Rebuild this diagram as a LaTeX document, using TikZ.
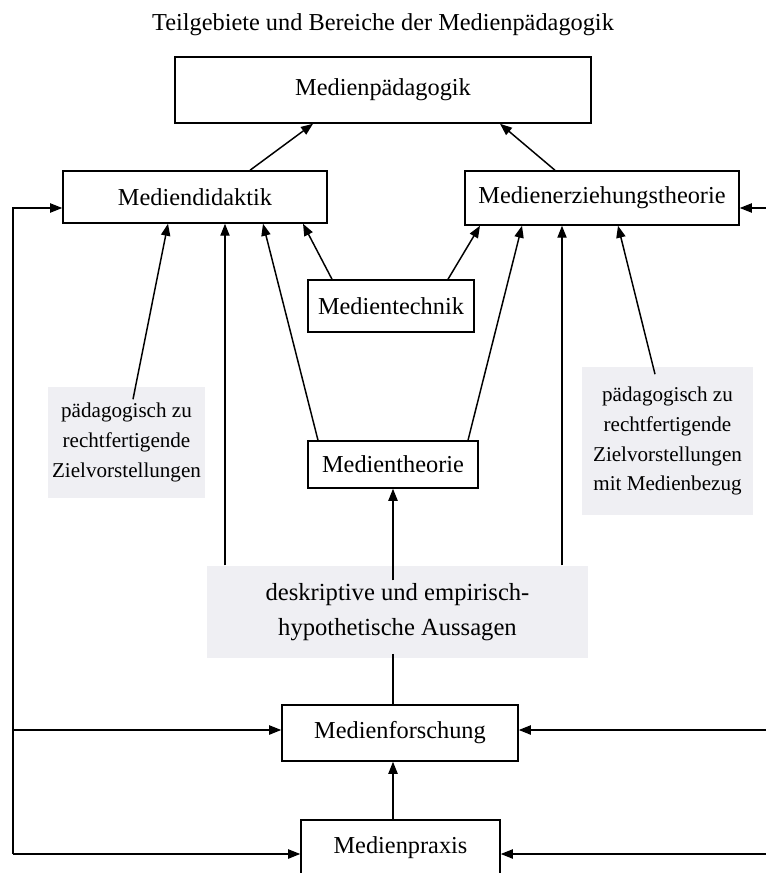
\documentclass[tikz,border=0pt]{standalone}
\usepackage{fontspec}
\setmainfont{Liberation Serif}
\usetikzlibrary{arrows.meta, calc}
\definecolor{shade}{RGB}{239,239,243}

\begin{document}
\begin{tikzpicture}[x=0.025cm, y=-0.025cm, line width=1.05pt,
    every node/.style={font=\fontsize{17.3}{21}\selectfont},
    area/.style={rectangle, draw, inner sep=0pt, minimum height=1.3cm},
    note/.style={rectangle, fill=shade, inner sep=0pt, align=center, font=\fontsize{15}{21.3}\selectfont},
    arr/.style={-{Triangle[length=3mm, width=2.3mm]}}]

    \useasboundingbox (0,0) rectangle (766,873);

    \node (title) at (383,25) {Teilgebiete und Bereiche der Medienpädagogik};
    \node[area, minimum width=10.4cm, minimum height=1.65cm] (paed) at (383,90) {Medienpädagogik};
    \node[area, minimum width=6.6cm] (didak) at (195,197) {Mediendidaktik};
    \node[area, minimum width=6.85cm, minimum height=1.35cm] (erz) at (602,198) {Medienerziehungstheorie};
    \node[area, minimum width=4.15cm] (tech) at (391,306) {Medientechnik};
    \node[area, minimum width=4.25cm, minimum height=1.175cm] (theo) at (393,464.5) {Medientheorie};
    \node[area, minimum width=5.9cm, minimum height=1.4cm] (forsch) at (400,733) {Medienforschung};
    \node[area, minimum width=4.975cm, minimum height=1.4cm] (praxis) at (400.5,848) {Medienpraxis};

    \node[note, minimum width=3.925cm, minimum height=2.775cm] (lziel) at (126.5,442.5) {pädagogisch zu\\ rechtfertigende\\ Zielvorstellungen};
    \node[note, minimum width=4.275cm, minimum height=3.7cm] (rziel) at (667.5,441) {pädagogisch zu\\ rechtfertigende\\ Zielvorstellungen\\ mit Medienbezug};
    \node[note, minimum width=9.525cm, minimum height=2.3cm, font=\fontsize{17.5}{25}\selectfont] (desk) at (397.5,612) {deskriptive und empirisch-\\ hypothetische Aussagen};

    \coordinate (lt) at (13,208);
    \coordinate (lm) at (13,730);
    \coordinate (lb) at (13,854);
    \coordinate (rt) at (770,208);
    \coordinate (rm) at (770,730);
    \coordinate (rb) at (770,854);

    \draw[arr] (didak.north -| 250,0) -- (paed.south -| 313,0);
    \draw[arr] (erz.north -| 555,0) -- (paed.south -| 500,0);
    \draw[arr] (tech.north -| 332,0) -- (didak.south -| 303,0);
    \draw[arr] (tech.north -| 448,0) -- (erz.south -| 480,0);
    \draw[arr] ($(lziel.north -| 133,0)+(0,13)$) -- (didak.south -| 168,0);
    \draw[arr] (desk.north -| 225,0) -- (didak.south -| 225,0);
    \draw[arr] (theo.north -| 318,0) -- (didak.south -| 263,0);
    \draw[arr] (theo.north -| 468,0) -- (erz.south -| 522,0);
    \draw[arr] (desk.north -| 562,0) -- (erz.south -| 562,0);
    \draw[arr] ($(rziel.north -| 655,0)+(0,8)$) -- (erz.south -| 618,0);
    \draw[arr] ($(desk.north -| 393,0)+(0,15)$) -- (theo.south -| 393,0);
    \draw ($(desk.south -| 393,0)+(0,-5)$) -- (forsch.north -| 393,0);
    \draw[arr] (praxis.north -| 393,0) -- (forsch.south -| 393,0);

    \draw[arr] (lb) -- (lt) -- (didak.west |- lt);
    \draw[arr] (lm) -- (forsch.west |- lm);
    \draw[arr] (lb) -- (praxis.west |- lb);
    \draw[arr] (rb) -- (rt) -- (erz.east |- rt);
    \draw[arr] (rm) -- (forsch.east |- rm);
    \draw[arr] (rb) -- (praxis.east |- rb);
\end{tikzpicture}
\end{document}
